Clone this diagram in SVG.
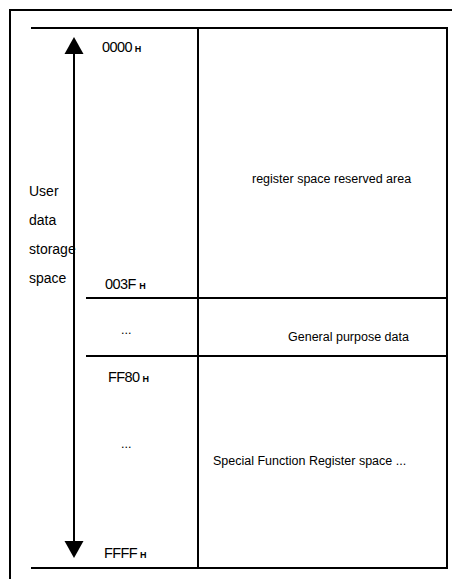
<svg xmlns="http://www.w3.org/2000/svg" width="452" height="579" viewBox="0 0 452 579">
  <style>
    .frame { fill: none; stroke: #000; stroke-width: 2; }
    .rule { fill: none; stroke: #000; stroke-width: 2; }
    .axis { stroke: #000; stroke-width: 2; }
    .head { fill: #000; }
    .lbl { font-family: "Liberation Sans", Arial, sans-serif; font-size: 14px; fill: #000; }
    .addr { font-family: "Liberation Sans", Arial, sans-serif; font-size: 14.5px; letter-spacing: -0.6px; fill: #000; }
    .suf { font-family: "Liberation Sans", Arial, sans-serif; font-size: 9px; font-weight: bold; letter-spacing: 0; fill: #000; }
    .area { font-family: "Liberation Sans", Arial, sans-serif; font-size: 12.5px; fill: #000; }
  </style>

  <rect width="452" height="579" fill="#fff"/>

  <!-- outer frame (open on right and bottom) -->
  <path class="frame" d="M10,579 V10 H452"/>

  <!-- memory map table -->
  <g id="memory-table">
    <path class="rule" d="M31,28 H447 V568 H31"/>
    <line class="rule" x1="198" y1="28" x2="198" y2="568"/>
  </g>

  <!-- address ruler: double-headed arrow -->
  <g id="connectors">
    <line class="axis" x1="74" y1="50" x2="74" y2="545"/>
    <polygon class="head" points="74,37 64.5,54 83.5,54"/>
    <polygon class="head" points="74,558 64.5,541 83.5,541"/>
  </g>

  <g id="user-space-label">
    <text class="lbl" x="29" y="196">User</text>
    <text class="lbl" x="29" y="225">data</text>
    <text class="lbl" x="29" y="254">storage</text>
    <text class="lbl" x="29" y="283">space</text>
  </g>

  <!-- reserved register block 0000H..003FH -->
  <g id="reserved-area">
    <text class="addr" x="102" y="52">0000<tspan class="suf" dx="3">H</tspan></text>
    <text class="addr" x="105" y="289">003F<tspan class="suf" dx="3.5">H</tspan></text>
    <text class="area" x="252" y="183">register space reserved area</text>
  </g>

  <!-- general purpose data block -->
  <g id="general-area">
    <line class="rule" x1="86" y1="298" x2="447" y2="298"/>
    <text class="area" x="121" y="334">...</text>
    <text class="area" x="288" y="341">General purpose data</text>
  </g>

  <!-- special function register block FF80H..FFFFH -->
  <g id="sfr-area">
    <line class="rule" x1="86" y1="356" x2="447" y2="356"/>
    <text class="addr" x="108" y="382">FF80<tspan class="suf" dx="3">H</tspan></text>
    <text class="area" x="121" y="448">...</text>
    <text class="area" x="213" y="465">Special Function Register space ...</text>
    <text class="addr" x="104" y="558">FFFF<tspan class="suf" dx="3">H</tspan></text>
  </g>
</svg>
